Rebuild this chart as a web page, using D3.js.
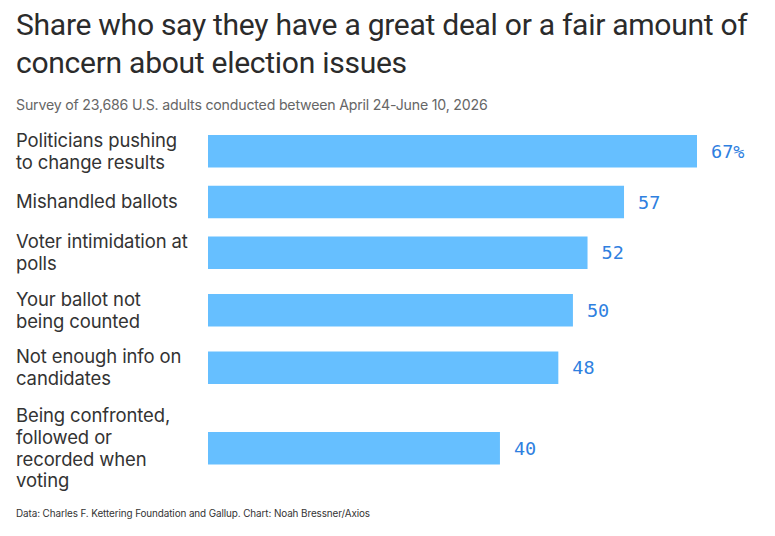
<!DOCTYPE html>
<html>
<head>
<meta charset="utf-8">
<script src="https://cdn.jsdelivr.net/npm/d3@7"></script>
<style>
  html, body { margin: 0; padding: 0; background: #fff; }
  svg { display: block; }
</style>
</head>
<body>
<svg id="chart" width="775" height="536"></svg>
<script>
const titleLines = ["Share who say they have a great deal or a fair amount of", "concern about election issues"];
const subtitle = "Survey of 23,686 U.S. adults conducted between April 24-June 10, 2026";
const footer = "Data: Charles F. Kettering Foundation and Gallup. Chart: Noah Bressner/Axios";
const categories = [
  ["Politicians pushing", "to change results"],
  ["Mishandled ballots"],
  ["Voter intimidation at", "polls"],
  ["Your ballot not", "being counted"],
  ["Not enough info on", "candidates"],
  ["Being confronted,", "followed or", "recorded when", "voting"]
];
const values = [67, 57, 52, 50, 48, 40];

const svg = d3.select("#chart");
const barColor = "#66bfff", valueColor = "#2f80e0", textColor = "#333333";

// fit font size of a text selection so that it spans the target width
function fitSize(sel, target) {
  const w = sel.node().getComputedTextLength();
  const fs = parseFloat(sel.attr("font-size"));
  return fs * target / w;
}

// Title
const t1 = svg.append("text")
  .attr("x", 16).attr("y", 35)
  .attr("font-family", "Roboto, 'Noto Sans', sans-serif")
  .attr("font-size", 26).attr("fill", "#2b2b2b")
  .attr("letter-spacing", -0.3)
  .text(titleLines[0]);
const titleSize = fitSize(t1, 729);
t1.attr("font-size", titleSize);
svg.append("text")
  .attr("x", 16).attr("y", 73)
  .attr("font-family", "Roboto, 'Noto Sans', sans-serif")
  .attr("font-size", titleSize).attr("fill", "#2b2b2b")
  .attr("letter-spacing", -0.3)
  .text(titleLines[1]);

const sub = svg.append("text")
  .attr("x", 16).attr("y", 110)
  .attr("font-family", "Inter, 'Noto Sans', sans-serif")
  .attr("font-size", 13.5).attr("fill", "#666")
  .attr("letter-spacing", -0.2)
  .text(subtitle);
sub.attr("font-size", fitSize(sub, 471));

// layout rows
const lineH = 21.7, barH = 32.5, gap = 11.5;
const rows = [];
let y0 = 135 - (46 - barH) / 2;
categories.forEach((lines, i) => {
  const h = Math.max(barH, lines.length * 23);
  rows.push({ lines, value: values[i], center: y0 + h / 2 });
  y0 += h + gap;
});

const x = d3.scaleLinear().domain([0, 67]).range([208, 697]);

const g = svg.append("g");
g.selectAll("rect").data(rows).join("rect")
  .attr("x", x(0))
  .attr("y", d => d.center - barH / 2)
  .attr("width", d => x(d.value) - x(0))
  .attr("height", barH)
  .attr("fill", barColor);

g.selectAll("text.val").data(rows).join("text")
  .attr("class", "val")
  .attr("x", d => x(d.value) + 14)
  .attr("y", d => d.center)
  .attr("dy", "0.36em")
  .attr("font-family", "'DejaVu Sans Mono', monospace")
  .attr("font-size", 18.5)
  .attr("fill", valueColor)
  .text((d, i) => i === 0 ? d.value + "%" : d.value);

// measure label size
const probe = svg.append("text")
  .attr("font-family", "Inter, 'Noto Sans', sans-serif")
  .attr("font-size", 17).attr("letter-spacing", -0.1)
  .text(categories[0][0]);
const labelSize = fitSize(probe, 161);
probe.remove();

const lab = g.selectAll("text.lab").data(rows).join("text")
  .attr("class", "lab")
  .attr("font-family", "Inter, 'Noto Sans', sans-serif")
  .attr("font-size", labelSize)
  .attr("fill", textColor)
  .attr("letter-spacing", -0.1);
lab.each(function(d) {
  const n = d.lines.length;
  const first = d.center - (n - 1) * lineH / 2;
  d3.select(this).selectAll("tspan").data(d.lines).join("tspan")
    .attr("x", 16)
    .attr("y", (t, j) => first + j * lineH)
    .attr("dy", "0.35em")
    .text(t => t);
});

const ft = svg.append("text")
  .attr("x", 16).attr("y", 517)
  .attr("font-family", "Inter, 'Noto Sans', sans-serif")
  .attr("font-size", 10.5).attr("fill", "#333")
  .attr("letter-spacing", -0.1)
  .text(footer);
ft.attr("font-size", fitSize(ft, 355));
</script>
</body>
</html>
